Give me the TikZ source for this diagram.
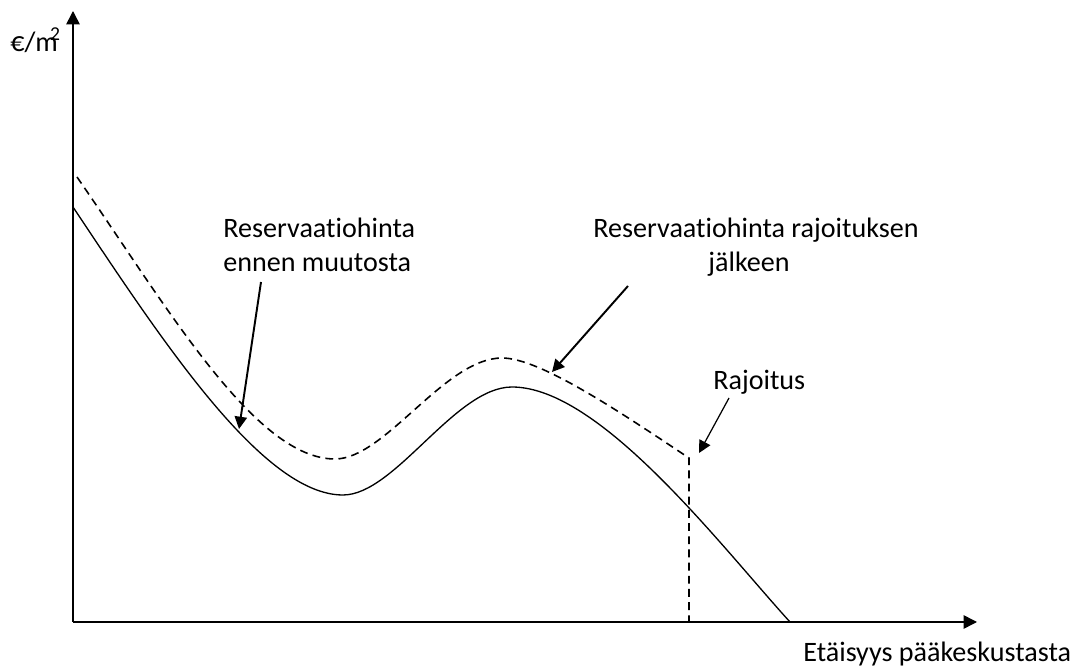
\documentclass[tikz,border=0pt]{standalone}
\usepackage{fontspec}
\setmainfont{Carlito}[Ligatures=NoCommon]
\usetikzlibrary{arrows.meta,positioning}

\tikzset{
    axis/.style={line width=0.85pt, -{Triangle[length=7.6pt,width=7.6pt]}},
    pointer/.style={line width=1.1pt, -{Triangle[length=7pt,width=7pt]}},
    thinpointer/.style={line width=0.7pt, -{Triangle[length=7pt,width=7pt]}},
    curve/.style={line width=0.75pt},
    limitcurve/.style={line width=0.9pt, dash pattern=on 4.5pt off 3pt},
    label/.style={inner sep=0pt, anchor=base west, align=left}
}

\begin{document}
\begin{tikzpicture}[x=0.02cm, y=-0.02cm, font=\fontsize{16}{19.8}\selectfont]
    \useasboundingbox (0,0) rectangle (1092,671);

    % axes
    \coordinate (O) at (73,622);
    \coordinate (ytop) at (73,11);
    \coordinate (xend) at (977,622);
    \draw[axis] (O) -- (ytop);
    \draw[axis] (O) -- (xend);
    \node[label] (ylab) at (10,52) {€/m\kern-0.28em\textsuperscript{2}};
    \node[label] (xlab) at (803,662) {Etäisyys pääkeskustasta};

    % price before the change
    \coordinate (s0) at (73,207);
    \coordinate (smin) at (343,495);
    \coordinate (smax) at (512,387);
    \coordinate (s1) at (790,622);
    \draw[curve] (s0) .. controls (163,342) and (263,495) .. (smin)
        .. controls (395,495) and (455,387) .. (smax)
        .. controls (600,387) and (720,545) .. (s1);

    % price after the limit
    \coordinate (d0) at (77,177);
    \coordinate (dmin) at (335,459);
    \coordinate (dmax) at (502,358);
    \coordinate (limtop) at (689,458);
    \coordinate (limbot) at (689,621);
    \draw[limitcurve] (d0) .. controls (167,307) and (255,459) .. (dmin)
        .. controls (385,459) and (445,358) .. (dmax)
        .. controls (540,358) and (620,412) .. (limtop) -- (limbot);

    % labels
    \node[label] (before) at (223,272) {Reservaatiohinta\\ennen muutosta};
    \node[label] (after) at (593,272) {Reservaatiohinta rajoituksen\\\hspace*{65.5pt}jälkeen};
    \node[label] (limit) at (713,390) {Rajoitus};

    \coordinate (beforetail) at (261,282);
    \coordinate (beforetip) at (239,429);
    \coordinate (aftertail) at (628,286);
    \coordinate (aftertip) at (552,372);
    \coordinate (limittail) at (729,398);
    \coordinate (limittip) at (699,453);
    \draw[pointer] (beforetail) -- (beforetip);
    \draw[pointer] (aftertail) -- (aftertip);
    \draw[thinpointer] (limittail) -- (limittip);
\end{tikzpicture}
\end{document}
